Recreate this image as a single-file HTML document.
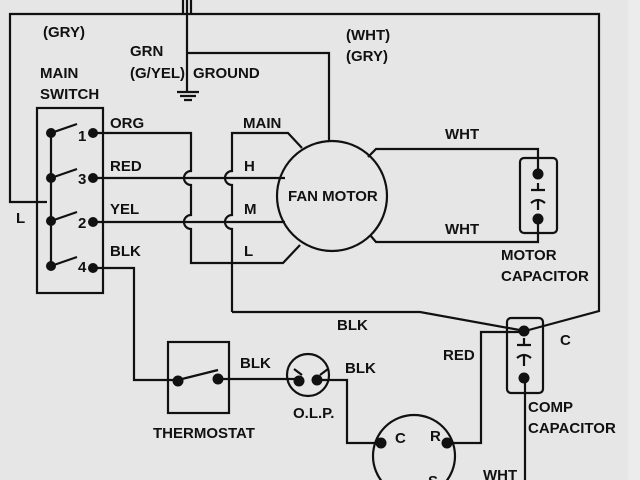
<!DOCTYPE html><html><head><style>body{margin:0;background:#e6e6e6}svg{display:block}text{font-family:"Liberation Sans",Arial,sans-serif;font-weight:bold;font-size:15px;fill:#111}</style></head><body>
<svg width="640" height="480" viewBox="0 0 640 480" xmlns="http://www.w3.org/2000/svg">
<rect width="640" height="480" fill="#e6e6e6"/>
<rect x="628" y="0" width="12" height="480" fill="#ececec"/>
<g fill="none" stroke="#111" stroke-width="2.2">
<path d="M47,202 H10 V14 H599 V311 L525,331"/>
<path d="M183,0 V14 M187,0 V14 M191,0 V14"/>
<path d="M187,14 V92 M177,92 H199 M180,96 H196 M184,100 H192"/>
<path d="M187,53 H329 V141"/>
<rect x="37" y="108" width="66" height="185"/>
<path d="M51,133 V266"/>
<path d="M51,133 L77,124 M51,178 L77,169 M51,221 L77,212 M51,266 L77,257"/>
<path d="M93,133 H191 V171 A7,7 0 0 0 191,185 V215 A7,7 0 0 0 191,229 V263 H283 L300,245"/>
<path d="M232,312 V229 A7,7 0 0 1 232,215 V185 A7,7 0 0 1 232,171 V133 H288 L302,148"/>
<path d="M232,312 H420 L525,331"/>
<path d="M93,178 H285 M93,222 H285"/>
<circle cx="332" cy="196" r="55"/>
<path d="M368,157 L376,149 H538 V174 M370,235 L376,242 H538 V219"/>
<rect x="520" y="158" width="37" height="75" rx="4"/>
<path d="M531,190 H545 M538,183 V190 M531,203 Q538,197 545,203 M538,200 V210"/>
<path d="M93,268 H134 V380 H178 L218,370 M218,379 H298 M316,380 H347 V443 H381"/>
<rect x="168" y="342" width="61" height="71"/>
<circle cx="308" cy="375" r="21"/>
<path d="M294,369 L302,375 M320,375 L328,369"/>
<circle cx="414" cy="456" r="41"/>
<path d="M447,443 H481 V332 H524"/>
<rect x="507" y="318" width="36" height="75" rx="4"/>
<path d="M517,345 H531 M524,338 V345 M517,358 Q524,352 531,358 M524,355 V366"/>
<path d="M525,378 V480"/>
</g>
<g fill="#111">
<circle cx="51" cy="133" r="5"/><circle cx="51" cy="178" r="5"/><circle cx="51" cy="221" r="5"/><circle cx="51" cy="266" r="5"/>
<circle cx="93" cy="133" r="5"/><circle cx="93" cy="178" r="5"/><circle cx="93" cy="222" r="5"/><circle cx="93" cy="268" r="5"/>
<circle cx="538" cy="174" r="5.5"/><circle cx="538" cy="219" r="5.5"/>
<circle cx="178" cy="381" r="5.5"/><circle cx="218" cy="379" r="5.5"/>
<circle cx="299" cy="381" r="5.5"/><circle cx="317" cy="380" r="5.5"/>
<circle cx="381" cy="443" r="5.5"/><circle cx="447" cy="443" r="5.5"/>
<circle cx="524" cy="331" r="5.5"/><circle cx="524" cy="378" r="5.5"/>
</g>
<text x="43" y="37">(GRY)</text>
<text x="130" y="56">GRN</text>
<text x="130" y="78">(G/YEL)</text>
<text x="193" y="78">GROUND</text>
<text x="40" y="78">MAIN</text>
<text x="40" y="99">SWITCH</text>
<text x="16" y="223">L</text>
<text x="78" y="141">1</text><text x="78" y="184">3</text><text x="78" y="228">2</text><text x="78" y="272">4</text>
<text x="110" y="128">ORG</text><text x="110" y="171">RED</text><text x="110" y="214">YEL</text><text x="110" y="256">BLK</text>
<text x="243" y="128">MAIN</text><text x="244" y="171">H</text><text x="244" y="214">M</text><text x="244" y="256">L</text>
<text x="288" y="201">FAN MOTOR</text>
<text x="346" y="40">(WHT)</text><text x="346" y="61">(GRY)</text>
<text x="445" y="139">WHT</text><text x="445" y="234">WHT</text>
<text x="501" y="260">MOTOR</text><text x="501" y="281">CAPACITOR</text>
<text x="337" y="330">BLK</text>
<text x="240" y="368">BLK</text><text x="345" y="373">BLK</text>
<text x="293" y="418">O.L.P.</text>
<text x="153" y="438">THERMOSTAT</text>
<text x="443" y="360">RED</text>
<text x="560" y="345">C</text>
<text x="528" y="412">COMP</text><text x="528" y="433">CAPACITOR</text>
<text x="395" y="443">C</text><text x="430" y="441">R</text><text x="428" y="486">S</text>
<text x="483" y="480">WHT</text>
</svg></body></html>
